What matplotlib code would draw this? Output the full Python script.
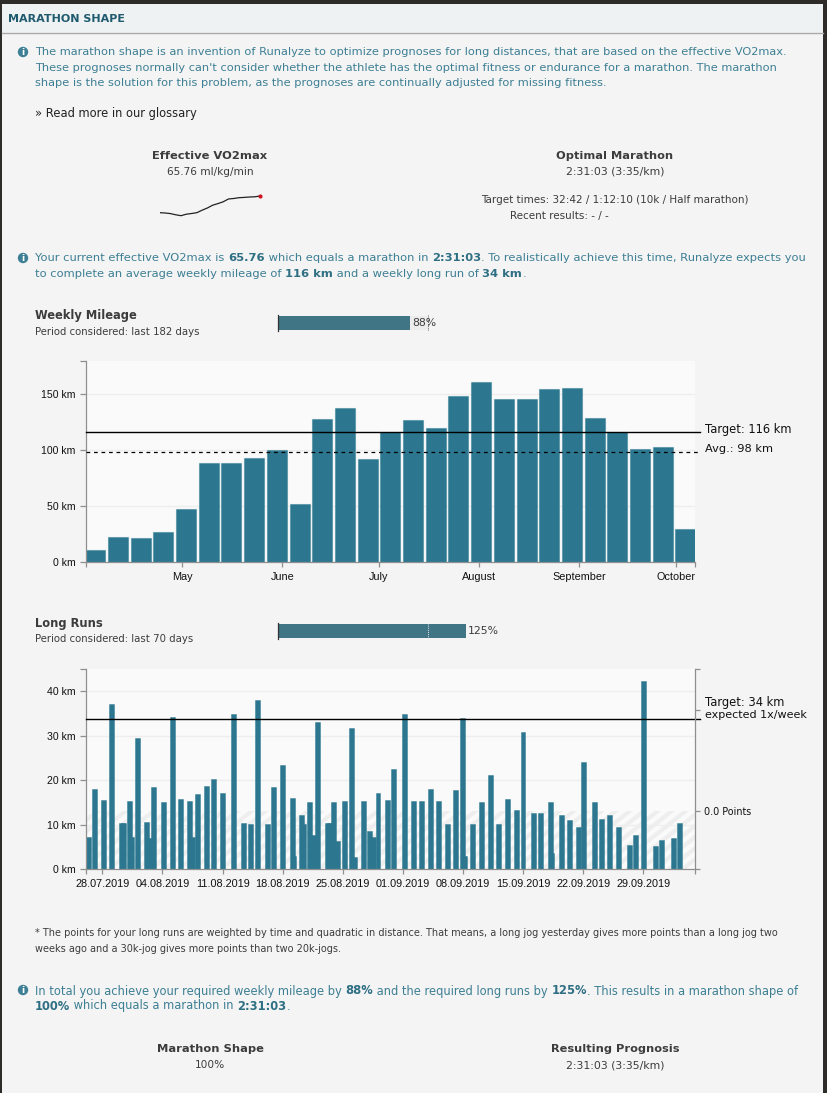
import matplotlib
matplotlib.use("Agg")
import matplotlib.pyplot as plt
import matplotlib.dates as mdates
import numpy as np
from matplotlib.patches import Rectangle

W, H = 827, 1093
DAY0_W = mdates.date2num(np.datetime64("2019-04-01"))
DAY0_L = mdates.date2num(np.datetime64("2019-07-28"))

# ---- data ----
week_starts = ["2019-04-01","2019-04-08","2019-04-15","2019-04-22","2019-04-29","2019-05-06","2019-05-13",
               "2019-05-20","2019-05-27","2019-06-03","2019-06-10","2019-06-17","2019-06-24","2019-07-01",
               "2019-07-08","2019-07-15","2019-07-22","2019-07-29","2019-08-05","2019-08-12","2019-08-19",
               "2019-08-26","2019-09-02","2019-09-09","2019-09-16","2019-09-23","2019-09-30"]
weekly_km = [10.8,21.8,21.5,26.3,47,88.3,88.3,93,100,51.5,128,137.7,92,116,127,119.7,148.5,161,145.5,145.5,
             154.5,156,129.3,116.5,101,103,29.6]
month_ticks = ["2019-05-01","2019-06-01","2019-07-01","2019-08-01","2019-09-01","2019-10-01"]
month_labels = ["May","June","July","August","September","October"]
weekly_target, weekly_avg = 116, 98

run_days = [-1.63,-0.91,0.16,1.13,2.26,2.44,3.17,3.42,4.07,5.20,5.52,5.98,7.18,8.20,9.16,10.17,10.52,11.14,12.15,
            12.97,14.05,15.33,16.41,17.23,18.04,19.21,19.99,20.95,22.17,22.24,23.17,23.48,24.14,24.61,25.11,26.24,
            26.43,26.97,27.44,28.22,29.07,29.34,30.38,31.16,31.55,32.10,33.18,33.96,35.24,36.20,37.18,38.23,39.20,
            40.21,41.14,41.96,42.19,43.15,44.17,45.17,46.18,47.15,48.20,48.98,50.17,50.99,52.20,52.35,53.46,54.45,
            55.41,56.04,57.36,58.17,59.10,60.07,61.40,62.05,63.06,64.38,65.12,66.47,67.17]
run_km = [7.2,18.0,15.5,37.1,10.5,10.3,15.3,7.2,29.4,10.6,7.0,18.6,15.2,34.2,15.7,15.3,7.2,16.9,18.7,
          20.4,17.2,35.0,10.3,10.2,38.0,10.2,18.5,23.4,16.1,3.1,12.2,10.2,15.1,7.6,33.0,10.4,
          10.3,15.1,6.4,15.3,31.8,2.8,15.3,8.7,7.2,17.2,15.6,22.5,35.0,15.4,15.4,18.1,15.3,
          10.1,17.9,34.1,3.0,10.2,15.1,21.2,10.2,15.7,13.3,30.9,12.7,12.7,15.1,3.7,12.1,11.1,
          9.4,24.0,15.1,11.4,12.1,9.4,5.4,7.6,42.2,5.2,6.5,7.1,10.3]
run_tick_dates = ["2019-07-28","2019-08-04","2019-08-11","2019-08-18","2019-08-25","2019-09-01","2019-09-08",
                  "2019-09-15","2019-09-22","2019-09-29"]
run_tick_labels = ["28.07.2019","04.08.2019","11.08.2019","18.08.2019","25.08.2019","01.09.2019","08.09.2019",
                   "15.09.2019","22.09.2019","29.09.2019"]
run_target = 33.7
vo2_trend = [64.09,64.06,64.0,63.88,63.79,63.94,64.01,64.09,64.34,64.56,64.84,65.0,65.18,65.46,65.51,65.59,65.62,65.66,65.68,65.76]
mileage_pct, longrun_pct = 88, 125

# ---- colours ----
BG = "#f4f4f4"; PLOT = "#fafafa"; BAR = "#2c778f"; EDGE = (0.17, 0.47, 0.56, 0.45)
INFO = "#3d7f94"; INFOB = "#2f6f84"; DARK = "#3c3c3c"; AX = "#8f8f8f"; GRID = "#eeeeee"
SANS = "DejaVu Sans"; TICK = "Liberation Sans"

fig = plt.figure(figsize=(W/100, H/100), dpi=100, facecolor=BG)
bg = fig.add_axes([0, 0, 1, 1]); bg.set_xlim(0, W); bg.set_ylim(H, 0); bg.axis("off")

def axpx(l, t, r, b, **kw):
    return fig.add_axes([l/W, 1-b/H, (r-l)/W, (b-t)/H], **kw)

def T(x, y, s, size=8, color=DARK, weight="normal", ha="left", family=SANS):
    return bg.text(x, y, s, fontsize=size, color=color, fontweight=weight, ha=ha, va="center", family=family)

def runs(x, y, parts, size, color, boldcolor):
    r = fig.canvas.get_renderer()
    for s, b in parts:
        t = bg.text(x, y, s, fontsize=size, color=boldcolor if b else color, fontweight="bold" if b else "normal",
                    va="center", ha="left", family=SANS)
        x += t.get_window_extent(r).width

def icon(x, y):
    bg.add_patch(plt.Circle((x, y), 5.2, color=INFO, lw=0))
    bg.text(x, y+0.2, "i", fontsize=6.5, color="white", fontweight="bold", ha="center", va="center", family=SANS)

# page frame
bg.add_patch(Rectangle((0, 0), W, 3.5, color="#2e2c28", lw=0))
bg.add_patch(Rectangle((0, 0), 1.8, H, color="#2e2c28", lw=0))
bg.add_patch(Rectangle((823, 0), 4, H, color="#2e2c28", lw=0))
bg.add_patch(Rectangle((1.8, 3.5), 821.2, 28.5, color="#eef2f3", lw=0))
bg.plot([1.8, 823], [32.5, 32.5], color="#a9a9a9", lw=1)
T(8, 19, "MARATHON SHAPE", 8, "#1f5a6e", "bold")

BODY = 8.19
icon(23, 52)
T(35, 52, "The marathon shape is an invention of Runalyze to optimize prognoses for long distances, that are based on the effective VO2max.", BODY, INFO)
T(35, 68, "These prognoses normally can't consider whether the athlete has the optimal fitness or endurance for a marathon. The marathon", BODY, INFO)
T(35, 83, "shape is the solution for this problem, as the prognoses are continually adjusted for missing fitness.", BODY, INFO)
T(35, 114, "» Read more in our glossary", 8.3, "#222222")

T(210, 156, "Effective VO2max", 8.25, DARK, "bold", "center")
T(210, 172, "65.76 ml/kg/min", 7.6, DARK, ha="center")
T(614.5, 156, "Optimal Marathon", 8.2, DARK, "bold", "center")
T(615, 172, "2:31:03 (3:35/km)", 7.8, DARK, ha="center")
T(614.5, 200, "Target times: 32:42 / 1:12:10 (10k / Half marathon)", 7.46, DARK, ha="center")
T(510, 216, "Recent results: - / -", 7.46, DARK)

sp = axpx(160, 194, 260, 217); sp.axis("off"); sp.patch.set_alpha(0)
sp.plot(range(len(vo2_trend)), vo2_trend, color="#222222", lw=0.9)
sp.plot(len(vo2_trend)-1, vo2_trend[-1], "o", color="#cc1122", ms=3, clip_on=False, mew=0)
sp.set_xlim(0, len(vo2_trend)-1); sp.set_ylim(63.66, 65.96)

icon(23, 258)
runs(35, 258, [("Your current effective VO2max is ", 0), ("65.76", 1), (" which equals a marathon in ", 0), ("2:31:03", 1),
               (". To realistically achieve this time, Runalyze expects you", 0)], 8.25, INFO, INFOB)
runs(35, 274, [("to complete an average weekly mileage of ", 0), ("116 km", 1), (" and a weekly long run of ", 0), ("34 km", 1), (".", 0)],
     8.25, INFO, INFOB)

T(35, 316, "Weekly Mileage", 8.3, DARK, "bold")
T(35, 332, "Period considered: last 182 days", 7.3, DARK)
T(35, 624, "Long Runs", 8.3, DARK, "bold")
T(35, 639.5, "Period considered: last 70 days", 7.3, DARK)

def progress(t, b, pct):
    a = axpx(278.3, t-1, 578.3, b+1)
    a.set_xlim(0, 200); a.set_ylim(1, 0); a.axis("off"); a.patch.set_alpha(0)
    a.barh(0.5, pct, height=(b-t)/(b-t+2), color="#3f7585", lw=0)
    a.barh(0.5, 100, height=(b-t)/(b-t+2), color="#ececec", lw=0, zorder=0)
    a.plot([0, 0], [0, 1], color="#333333", lw=0.9, clip_on=False)
    a.plot([100, 100], [0, 1], color="#555555" if pct < 100 else "#e8e8e8", lw=0.7, ls=(0, (1, 1.2)), zorder=3)
    a.text(pct+1, 0.5, f"{pct}%", fontsize=7.8, color=DARK, va="center", family=SANS)

progress(316, 330, mileage_pct)
progress(624, 638, longrun_pct)

def style(a):
    a.set_facecolor(PLOT)
    for k in ("top", "right"):
        a.spines[k].set_visible(False)
    for k in ("left", "bottom"):
        a.spines[k].set_color(AX); a.spines[k].set_linewidth(0.9)
    a.tick_params(axis="y", color=AX, length=4.3, width=0.9, pad=2.9, labelsize=7.6, labelcolor="#111111")
    a.tick_params(axis="x", color=AX, length=3.6, width=0.9, pad=3.5, labelsize=7.8, labelcolor="#111111")
    for l in a.get_xticklabels() + a.get_yticklabels():
        l.set_family(TICK)

# ---- weekly mileage ----
a1 = axpx(85.7, 361, 695.3, 561.7)
wx = DAY0_W + 2.98 + 7.04*np.arange(len(week_starts))
a1.bar(wx, weekly_km, width=6.2, color=BAR, edgecolor=EDGE, lw=0.8, zorder=2)
a1.set_xlim(DAY0_W, DAY0_W+189.1); a1.set_ylim(0, 180)
a1.set_yticks([0, 50, 100, 150, 180], ["0 km", "50 km", "100 km", "150 km", ""])
xt = [DAY0_W] + list(mdates.date2num(np.array(month_ticks, dtype="datetime64[D]"))) + [DAY0_W+189.1]
a1.set_xticks(xt, [""] + month_labels + [""])
style(a1)
for v in (50, 100, 150):
    a1.axhline(v, color=GRID, lw=1, zorder=1)
a1.plot([0, 1.008], [weekly_target]*2, color="black", lw=1.0, transform=a1.get_yaxis_transform(), clip_on=False, zorder=4)
a1.plot([0, 1.008], [weekly_avg]*2, color="black", lw=0.9, ls=(0, (3, 3)), transform=a1.get_yaxis_transform(), clip_on=False, zorder=4)
T(705, 429.5, f"Target: {weekly_target} km", 8.3, "#111111")
T(705, 449.5, f"Avg.: {weekly_avg} km", 8.2, "#111111")

# ---- long runs ----
a2 = axpx(85.7, 669.3, 695.3, 869.3)
xl = (DAY0_L-1.93, DAY0_L+69.04)
a2.set_xlim(*xl); a2.set_ylim(0, 44.94)
# hatched "no points" band, from the bottom of the chart up to the 0.0 Points tick
band = Rectangle((0, 0), 1, 13.03, transform=a2.get_yaxis_transform(), facecolor="none", lw=0)
a2.add_patch(band)
for x0 in np.arange(xl[0]-12, xl[1]+2, 14/8.59):
    ln, = a2.plot([x0, x0+11], [0, 13.03*1.3], color="#eeeeee", lw=3.0, zorder=0.5, solid_capstyle="butt")
    ln.set_clip_path(band)
a2.set_xlim(*xl); a2.set_ylim(0, 44.94)
a2.bar(DAY0_L+np.array(run_days), run_km, width=0.58, color=BAR, edgecolor=EDGE, lw=0.7, zorder=2)
a2.set_yticks([0, 10, 20, 30, 40, 44.94], ["0 km", "10 km", "20 km", "30 km", "40 km", ""])
rt = list(mdates.date2num(np.array(run_tick_dates, dtype="datetime64[D]")))
a2.set_xticks([xl[0]] + rt + [xl[1]], [""] + run_tick_labels + [""])
style(a2)
for v in (10, 20, 30, 40):
    a2.axhline(v, color=GRID, lw=1, zorder=1)
a2.plot([0, 1.008], [run_target]*2, color="black", lw=1.0, transform=a2.get_yaxis_transform(), clip_on=False, zorder=4)
T(705, 702.5, "Target: 34 km", 8.3, "#111111")
T(705, 714.5, "expected 1x/week", 8.0, "#111111")

r2 = a2.twinx()
r2.set_ylim(-1, 2.448)
r2.set_yticks([-1, 0, 1.747, 2.448], ["", "0.0 Points", "", ""])
for k in ("top", "left", "bottom"):
    r2.spines[k].set_visible(False)
r2.spines["right"].set_color(AX); r2.spines["right"].set_linewidth(0.9)
r2.tick_params(color=AX, length=3.6, width=0.9, pad=2.6, labelsize=6.9, labelcolor="#111111")
for l in r2.get_yticklabels():
    l.set_family(SANS)

# ---- footer ----
T(35, 933, "* The points for your long runs are weighted by time and quadratic in distance. That means, a long jog yesterday gives more points than a long jog two", 7.05, DARK)
T(35, 949, "weeks ago and a 30k-jog gives more points than two 20k-jogs.", 7.05, DARK)
icon(23, 990)
runs(35, 991, [("In total you achieve your required weekly mileage by ", 0), ("88%", 1), (" and the required long runs by ", 0), ("125%", 1),
               (". This results in a marathon shape of", 0)], 8.3, INFO, INFOB)
runs(35, 1006, [("100%", 1), (" which equals a marathon in ", 0), ("2:31:03", 1), (".", 0)], 8.3, INFO, INFOB)
T(210, 1049, "Marathon Shape", 8.25, DARK, "bold", "center")
T(210, 1065, "100%", 7.6, DARK, ha="center")
T(615, 1049, "Resulting Prognosis", 8.2, DARK, "bold", "center")
T(615, 1065, "2:31:03 (3:35/km)", 7.8, DARK, ha="center")

fig.savefig("out.png", dpi=100, facecolor=BG)
